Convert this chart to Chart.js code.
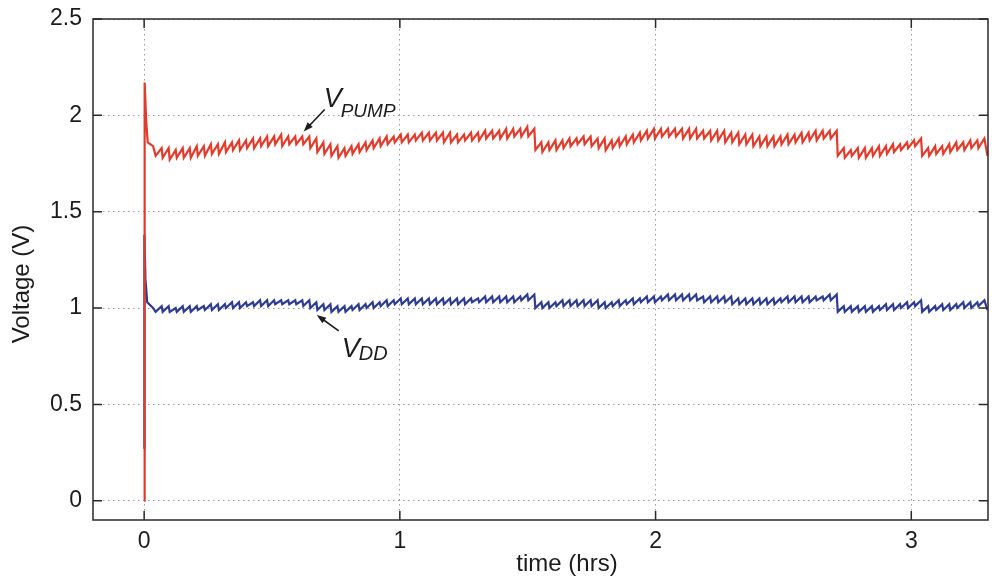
<!DOCTYPE html>
<html>
<head>
<meta charset="utf-8">
<script src="https://cdn.jsdelivr.net/npm/chart.js@4"></script>
<style>
  html, body { margin: 0; padding: 0; background: #fff; }
  #chart { display: block; }
</style>
</head>
<body>
<canvas id="chart" width="992" height="580"></canvas>
<script>
// axis ticks
const xTicks = [0, 1, 2, 3];
const yTicks = [0, 0.5, 1, 1.5, 2, 2.5];

// charge-pump cycles: start of first cycle and cycle length (hrs)
const cycleStart = 0.045;
const cycleLength = 0.0275;

// start-up transient, [hrs, V]
const pumpStartup = [[0, 0], [0.002, 2.17], [0.008, 1.97], [0.014, 1.86], [0.035, 1.84]];
const vddStartup = [[0, 0.27], [0.001, 1.38], [0.005, 1.15], [0.012, 1.03], [0.035, 1.0]];

// V_PUMP low / high for each cycle
const pumpLow = [
  1.79, 1.78, 1.77, 1.78, 1.78, 1.78, 1.79, 1.79, 1.80, 1.80,
  1.81, 1.82, 1.82, 1.83, 1.83, 1.84, 1.84, 1.85, 1.84, 1.85,
  1.85, 1.85, 1.83, 1.81, 1.80, 1.79, 1.78, 1.79, 1.80, 1.81,
  1.82, 1.83, 1.84, 1.85, 1.86, 1.86, 1.86, 1.87, 1.87, 1.87,
  1.87, 1.86, 1.86, 1.86, 1.87, 1.87, 1.87, 1.88, 1.88, 1.88,
  1.88, 1.89, 1.89, 1.89, 1.82, 1.81, 1.82, 1.82, 1.83, 1.84,
  1.85, 1.85, 1.84, 1.83, 1.82, 1.83, 1.84, 1.85, 1.86, 1.87,
  1.88, 1.88, 1.89, 1.89, 1.89, 1.88, 1.88, 1.88, 1.88, 1.87,
  1.87, 1.86, 1.86, 1.85, 1.85, 1.84, 1.84, 1.84, 1.84, 1.85,
  1.85, 1.86, 1.86, 1.87, 1.87, 1.88, 1.88, 1.79, 1.78, 1.79,
  1.78, 1.78, 1.79, 1.79, 1.80, 1.81, 1.82, 1.83, 1.84, 1.79,
  1.79, 1.80, 1.80, 1.81, 1.82, 1.82, 1.83, 1.83
];
const pumpHigh = [
  1.83, 1.83, 1.82, 1.83, 1.83, 1.84, 1.84, 1.85, 1.85, 1.86,
  1.86, 1.87, 1.87, 1.88, 1.88, 1.89, 1.89, 1.90, 1.89, 1.89,
  1.89, 1.89, 1.88, 1.86, 1.85, 1.84, 1.83, 1.84, 1.85, 1.86,
  1.87, 1.88, 1.89, 1.89, 1.90, 1.90, 1.90, 1.91, 1.91, 1.91,
  1.91, 1.91, 1.90, 1.90, 1.91, 1.91, 1.92, 1.92, 1.92, 1.93,
  1.93, 1.93, 1.94, 1.93, 1.86, 1.86, 1.87, 1.87, 1.88, 1.88,
  1.89, 1.89, 1.88, 1.88, 1.87, 1.88, 1.89, 1.90, 1.91, 1.92,
  1.93, 1.93, 1.93, 1.93, 1.93, 1.93, 1.93, 1.92, 1.92, 1.92,
  1.92, 1.91, 1.91, 1.90, 1.90, 1.89, 1.89, 1.89, 1.89, 1.90,
  1.90, 1.91, 1.91, 1.92, 1.92, 1.92, 1.92, 1.83, 1.82, 1.83,
  1.83, 1.83, 1.84, 1.84, 1.85, 1.85, 1.86, 1.87, 1.88, 1.83,
  1.84, 1.84, 1.85, 1.86, 1.86, 1.87, 1.87, 1.88
];

// V_DD low / high for each cycle
const vddLow = [
  0.98, 0.98, 0.98, 0.98, 0.98, 0.98, 0.99, 0.99, 0.99, 0.99,
  1.00, 1.00, 1.00, 1.01, 1.01, 1.01, 1.01, 1.02, 1.02, 1.02,
  1.02, 1.01, 1.00, 0.99, 0.99, 0.98, 0.98, 0.98, 0.99, 0.99,
  1.00, 1.00, 1.01, 1.01, 1.02, 1.02, 1.02, 1.02, 1.02, 1.02,
  1.02, 1.02, 1.02, 1.02, 1.02, 1.03, 1.03, 1.03, 1.03, 1.03,
  1.03, 1.03, 1.04, 1.04, 1.00, 1.00, 1.00, 1.01, 1.01, 1.01,
  1.01, 1.01, 1.01, 1.00, 1.00, 1.01, 1.01, 1.02, 1.02, 1.03,
  1.03, 1.03, 1.04, 1.04, 1.04, 1.04, 1.04, 1.04, 1.03, 1.03,
  1.03, 1.03, 1.02, 1.02, 1.02, 1.02, 1.02, 1.02, 1.02, 1.03,
  1.03, 1.03, 1.03, 1.03, 1.04, 1.04, 1.04, 0.98, 0.98, 0.98,
  0.98, 0.98, 0.98, 0.99, 0.99, 0.99, 1.00, 1.00, 1.01, 0.98,
  0.98, 0.99, 0.99, 0.99, 1.00, 1.00, 1.00, 1.01
];
const vddHigh = [
  1.01, 1.01, 1.00, 1.01, 1.01, 1.01, 1.01, 1.02, 1.02, 1.02,
  1.03, 1.03, 1.03, 1.03, 1.04, 1.04, 1.04, 1.04, 1.04, 1.04,
  1.04, 1.04, 1.03, 1.02, 1.02, 1.01, 1.01, 1.01, 1.02, 1.02,
  1.03, 1.03, 1.04, 1.04, 1.05, 1.05, 1.05, 1.05, 1.05, 1.05,
  1.05, 1.05, 1.05, 1.05, 1.05, 1.05, 1.06, 1.06, 1.06, 1.06,
  1.06, 1.06, 1.07, 1.07, 1.03, 1.03, 1.03, 1.04, 1.04, 1.04,
  1.04, 1.04, 1.04, 1.03, 1.03, 1.04, 1.04, 1.05, 1.05, 1.06,
  1.06, 1.06, 1.07, 1.07, 1.07, 1.07, 1.07, 1.06, 1.06, 1.06,
  1.06, 1.06, 1.05, 1.05, 1.05, 1.05, 1.05, 1.05, 1.05, 1.06,
  1.06, 1.06, 1.06, 1.06, 1.06, 1.07, 1.07, 1.01, 1.01, 1.01,
  1.01, 1.01, 1.01, 1.02, 1.02, 1.02, 1.03, 1.03, 1.04, 1.01,
  1.01, 1.02, 1.02, 1.02, 1.03, 1.03, 1.03, 1.04
];

// last sample of each trace, [hrs, V]
const pumpEnd = [3.298, 1.79];
const vddEnd = [3.298, 0.99];

// start-up, then one rise + drop per cycle
function buildTrace(startup, low, high, end) {
  const pts = startup.map(([x, y]) => ({ x, y }));
  low.forEach((v, i) => {
    const t = cycleStart + i * cycleLength;
    pts.push({ x: t, y: v });
    pts.push({ x: t + 0.85 * cycleLength, y: high[i] });
  });
  pts.push({ x: end[0], y: end[1] });
  return pts;
}

const FONT = '"Liberation Sans", Arial, Helvetica, sans-serif';
const INK = '#1c1c1c';

const decorations = {
  id: 'decorations',
  afterDraw(chart) {
    const { ctx, chartArea: a, scales: { x, y } } = chart;
    ctx.save();

    // box + inward ticks
    ctx.strokeStyle = '#2a2a2a';
    ctx.lineWidth = 1.5;
    ctx.strokeRect(a.left, a.top, a.right - a.left, a.bottom - a.top);
    ctx.beginPath();
    xTicks.forEach(v => {
      const px = x.getPixelForValue(v);
      ctx.moveTo(px, a.bottom); ctx.lineTo(px, a.bottom - 9);
      ctx.moveTo(px, a.top); ctx.lineTo(px, a.top + 9);
    });
    yTicks.forEach(v => {
      const py = y.getPixelForValue(v);
      ctx.moveTo(a.left, py); ctx.lineTo(a.left + 9, py);
      ctx.moveTo(a.right, py); ctx.lineTo(a.right - 9, py);
    });
    ctx.stroke();

    // arrow with a small filled head
    function arrow(x0, y0, x1, y1) {
      const p0 = [x.getPixelForValue(x0), y.getPixelForValue(y0)];
      const p1 = [x.getPixelForValue(x1), y.getPixelForValue(y1)];
      const ang = Math.atan2(p1[1] - p0[1], p1[0] - p0[0]);
      ctx.strokeStyle = INK;
      ctx.fillStyle = INK;
      ctx.lineWidth = 1.6;
      ctx.beginPath();
      ctx.moveTo(p0[0], p0[1]);
      ctx.lineTo(p1[0] - 6 * Math.cos(ang), p1[1] - 6 * Math.sin(ang));
      ctx.stroke();
      ctx.beginPath();
      ctx.moveTo(p1[0], p1[1]);
      ctx.lineTo(p1[0] - 10 * Math.cos(ang - 0.35), p1[1] - 10 * Math.sin(ang - 0.35));
      ctx.lineTo(p1[0] - 10 * Math.cos(ang + 0.35), p1[1] - 10 * Math.sin(ang + 0.35));
      ctx.closePath();
      ctx.fill();
    }

    // italic V with subscript
    function label(tx, ty, sub, big, small, drop) {
      const px = x.getPixelForValue(tx);
      const py = y.getPixelForValue(ty);
      ctx.fillStyle = INK;
      ctx.textAlign = 'left';
      ctx.textBaseline = 'alphabetic';
      ctx.font = `italic ${big}px ${FONT}`;
      ctx.fillText('V', px, py);
      const w = ctx.measureText('V').width;
      ctx.font = `italic ${small}px ${FONT}`;
      ctx.fillText(sub, px + w - 1, py + drop);
    }

    arrow(0.706, 2.03, 0.624, 1.916);
    label(0.702, 2.045, 'PUMP', 27, 19, 10);
    arrow(0.761, 0.881, 0.675, 0.964);
    label(0.773, 0.747, 'DD', 27, 20, 3);

    // axis titles
    ctx.fillStyle = INK;
    ctx.textAlign = 'center';
    ctx.textBaseline = 'middle';
    ctx.font = `24px ${FONT}`;
    ctx.fillText('time (hrs)', 567, 564);
    ctx.translate(22, 284);
    ctx.rotate(-Math.PI / 2);
    ctx.fillText('Voltage (V)', 0, 0);
    ctx.restore();
  }
};

new Chart(document.getElementById('chart'), {
  type: 'line',
  data: {
    datasets: [
      {
        label: 'V_PUMP',
        data: buildTrace(pumpStartup, pumpLow, pumpHigh, pumpEnd),
        borderColor: '#e23b2c',
        borderWidth: 2.2,
        pointRadius: 0,
        tension: 0,
        order: 0
      },
      {
        label: 'V_DD',
        data: buildTrace(vddStartup, vddLow, vddHigh, vddEnd),
        borderColor: '#2d3b91',
        borderWidth: 2.2,
        pointRadius: 0,
        tension: 0,
        order: 1
      }
    ]
  },
  options: {
    responsive: false,
    animation: false,
    devicePixelRatio: 1,
    parsing: false,
    layout: { padding: { top: 19, right: 4, left: 0, bottom: 0 } },
    plugins: { legend: { display: false }, tooltip: { enabled: false } },
    scales: {
      x: {
        type: 'linear',
        min: -0.2,
        max: 3.3,
        afterBuildTicks: s => { s.ticks = xTicks.map(v => ({ value: v })); },
        afterFit: s => { s.height = 60; s.paddingLeft = 0; s.paddingRight = 0; },
        ticks: {
          color: INK,
          font: { family: FONT, size: 23 },
          padding: 8,
          maxRotation: 0,
          callback: v => String(v)
        },
        grid: { color: '#9a9a9a', lineWidth: 1, drawTicks: false },
        border: { display: false, dash: [1.5, 3.5] }
      },
      y: {
        type: 'linear',
        min: -0.1,
        max: 2.5,
        afterBuildTicks: s => { s.ticks = yTicks.map(v => ({ value: v })); },
        afterFit: s => { s.width = 93; s.paddingTop = 0; s.paddingBottom = 0; },
        ticks: {
          color: INK,
          font: { family: FONT, size: 23 },
          padding: 11,
          callback: v => String(v)
        },
        grid: { color: '#9a9a9a', lineWidth: 1, drawTicks: false },
        border: { display: false, dash: [1.5, 3.5] }
      }
    }
  },
  plugins: [decorations]
});
</script>
</body>
</html>
